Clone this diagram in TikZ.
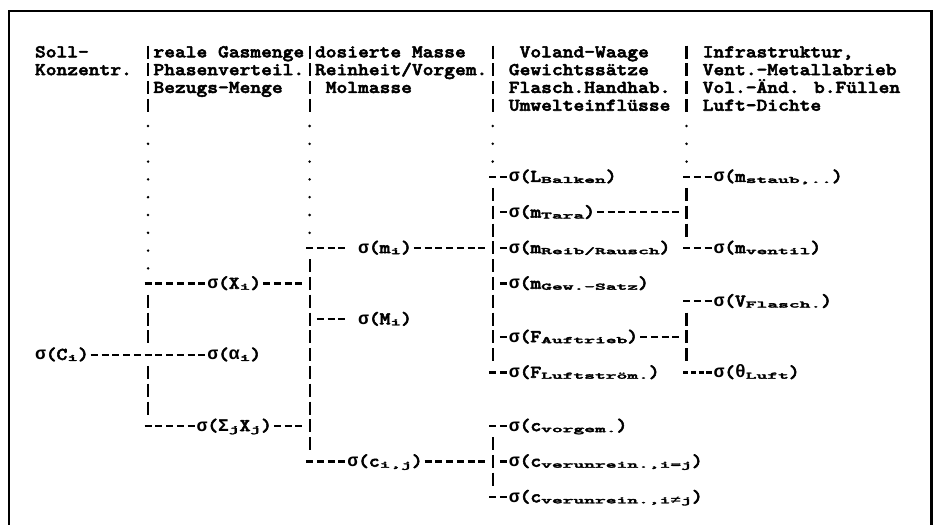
\documentclass[tikz,border=0pt]{standalone}
\usepackage{fontspec}
\usepackage{graphicx}
\newfontfamily\tw{lmmonolt10-bold.otf}[FakeStretch=1.1428,FakeBold=3]
\newfontfamily\gk{Liberation Mono}
\newcommand\gr[1]{{\gk\bfseries #1}}
\newcommand\sbs[1]{\raisebox{-1pt}{\scalebox{1}[0.55]{#1}}}
\begin{document}
\begin{tikzpicture}[x=10.77pt,y=-17.8pt,
  lab/.style={font=\tw\bfseries\fontsize{17.95pt}{17.8pt}\selectfont, inner sep=0pt, outer sep=0pt,
              text height=12pt, text depth=1.32pt, anchor=west},
  bars/.style={line width=2.2pt, dash pattern=on 13pt off 4.8pt},
  hbars/.style={bars, shorten <=-6.5pt, shorten >=-6.5pt},
  vbars/.style={bars, shorten <=11.3pt, shorten >=11.3pt},
  dots/.style={line width=2.8pt, line cap=round, dash pattern=on 0pt off 17.8pt,
               shorten <=20.6pt, shorten >=14pt},
  hd/.style={line width=2.2pt, dash pattern=on 7pt off 3.77pt},
  hdfour/.style={line width=2.2pt, dash pattern=on 5.2pt off 2.57pt},
  fromcol/.style={shorten <=-3.5pt, shorten >=1.885pt},
  tocol/.style={shorten <=1.885pt, shorten >=7.27pt},
  nn/.style={shorten <=1.885pt, shorten >=1.885pt},
  barto/.style={shorten <=7.27pt, shorten >=1.885pt},
  frame/.style={line width=2.5pt}]
\useasboundingbox (-3.2498,-2.9213) rectangle (83.752,26.573);

% frame
\coordinate (fbl) at (-2.414,26.7);
\coordinate (ftl) at (-2.414,-2.303);
\coordinate (ftr) at (83.24,-2.303);
\coordinate (fbr) at (83.24,26.7);
\draw[frame] (fbl) -- (ftl) -- (ftr) -- (fbr);

% header texts
\node[lab] (s1) at (0,0) {Soll-};
\node[lab] (s2) at (0,1) {Konzentr.};
\node[lab] (g1) at (11,0) {reale Gasmenge};
\node[lab] (g2) at (11,1) {Phasenverteil.};
\node[lab] (g3) at (11,2) {Bezugs-Menge};
\node[lab] (d1) at (26,0) {dosierte Masse};
\node[lab] (d2) at (26,1) {Reinheit/Vorgem.};
\node[lab] (d3) at (27,2) {Molmasse};
\node[lab] (w1) at (45,0) {Voland-Waage};
\node[lab] (w2) at (44,1) {Gewichtssätze};
\node[lab] (w3) at (44,2) {Flasch.Handhab.};
\node[lab] (w4) at (44,3) {Umwelteinflüsse};
\node[lab] (i1) at (62,0) {Infrastruktur,};
\node[lab] (i2) at (62,1) {Vent.-Metallabrieb};
\node[lab] (i3) at (62,2) {Vol.-Änd. b.Füllen};
\node[lab] (i4) at (62,3) {Luft-Dichte};

% sigma labels
\node[lab] (C) at (0,17) {\gr{σ}(C\sbs{i})};
\node[lab] (alpha) at (16,17) {\gr{σ}(\gr{α}\sbs{i})};
\node[lab] (X) at (16,13) {\gr{σ}(X\sbs{i})};
\node[lab] (SX) at (15,21) {\gr{σ}(\gr{Σ}\sbs{j}X\sbs{j})};
\node[lab] (mi) at (30,11) {\gr{σ}(m\sbs{i})};
\node[lab] (Mi) at (30,15) {\gr{σ}(M\sbs{i})};
\node[lab] (cij) at (29,23) {\gr{σ}(c\sbs{i,j})};
\node[lab] (LB) at (44,7) {\gr{σ}(L\sbs{Balken})};
\node[lab] (Ta) at (44,9) {\gr{σ}(m\sbs{Tara})};
\node[lab] (RR) at (44,11) {\gr{σ}(m\sbs{Reib/Rausch})};
\node[lab] (GS) at (44,13) {\gr{σ}(m\sbs{Gew.-Satz})};
\node[lab] (FA) at (44,16) {\gr{σ}(F\sbs{Auftrieb})};
\node[lab] (FL) at (44,18) {\gr{σ}(F\sbs{Luftström.})};
\node[lab] (cv) at (44,21) {\gr{σ}(c\sbs{vorgem.})};
\node[lab] (ce) at (44,23) {\gr{σ}(c\sbs{verunrein.,i=j})};
\node[lab] (cn) at (44,25) {\gr{σ}(c\sbs{verunrein.,i\gr{≠}j})};
\node[lab] (st) at (63,7) {\gr{σ}(m\sbs{staub,..})};
\node[lab] (ve) at (63,11) {\gr{σ}(m\sbs{ventil})};
\node[lab] (vf) at (63,14) {\gr{σ}(V\sbs{Flasch.})};
\node[lab] (th) at (63,18) {\gr{σ}(\gr{θ}\sbs{Luft})};

% column coordinates
\coordinate (t1) at (10.5,0); \coordinate (e1) at (10.5,3);
\coordinate (t2) at (25.5,0); \coordinate (e2) at (25.5,3);
\coordinate (t3) at (42.5,0); \coordinate (e3) at (42.5,3);
\coordinate (t4) at (60.5,0); \coordinate (e4) at (60.5,3);
\coordinate (a1) at (10.5,13); \coordinate (m1) at (10.5,17); \coordinate (b1) at (10.5,21);
\coordinate (a2) at (25.5,11); \coordinate (x2) at (25.5,13); \coordinate (k2) at (25.5,15);
\coordinate (s2) at (25.5,21); \coordinate (b2) at (25.5,23);
\coordinate (a3) at (42.5,7); \coordinate (p3) at (42.5,9); \coordinate (q3) at (42.5,11);
\coordinate (g3) at (42.5,13); \coordinate (f3) at (42.5,16); \coordinate (b3) at (42.5,18);
\coordinate (c3) at (42.5,21); \coordinate (d3) at (42.5,23); \coordinate (h3) at (42.5,25);
\coordinate (a4) at (60.5,7); \coordinate (p4) at (60.5,9); \coordinate (b4) at (60.5,11);
\coordinate (c4) at (60.5,14); \coordinate (f4) at (60.5,16); \coordinate (d4) at (60.5,18);

% header bars
\draw[hbars] (t1) -- (e1);
\draw[hbars] (t2) -- (e2);
\draw[hbars] (t3) -- (e3);
\draw[hbars] (t4) -- (e4);

% dotted parts
\draw[dots] (e1) -- (a1);
\draw[dots] (e2) -- (a2);
\draw[dots] (e3) -- (a3);
\draw[dots] (e4) -- (a4);

% vertical bar segments
\draw[vbars] (a1) -- (m1);
\draw[vbars] (m1) -- (b1);
\draw[vbars] (a2) -- (b2);
\draw[vbars] (a3) -- (b3);
\draw[vbars] (c3) -- (h3);
\draw[vbars] (a4) -- (b4);
\draw[vbars] (c4) -- (d4);

% horizontal connectors
\draw[hd,fromcol] (a1) -- (X.west);
\draw[hd,tocol] (X.east) -- (x2);
\draw[hd,nn] (C.east) -- (alpha.west);
\draw[hd,fromcol] (b1) -- (SX.west);
\draw[hd,tocol] (SX.east) -- (s2);
\draw[hd,fromcol,shorten >=12.655pt] (a2) -- (mi.west);
\draw[hd,tocol] (mi.east) -- (q3);
\draw[hd,barto] (q3) -- (RR.west);
\draw[hd,barto,shorten >=12.655pt] (k2) -- (Mi.west);
\draw[hd,fromcol] (b2) -- (cij.west);
\draw[hd,tocol] (cij.east) -- (d3);
\draw[hd,barto] (d3) -- (ce.west);
\draw[hd,fromcol] (a3) -- (LB.west);
\draw[hd,barto] (p3) -- (Ta.west);
\draw[hd,tocol] (Ta.east) -- (p4);
\draw[hd,barto] (g3) -- (GS.west);
\draw[hd,barto] (f3) -- (FA.west);
\draw[hd,tocol] (FA.east) -- (f4);
\draw[hd,fromcol] (b3) -- (FL.west);
\draw[hd,fromcol] (c3) -- (cv.west);
\draw[hd,fromcol] (h3) -- (cn.west);
\draw[hd,fromcol] (a4) -- (st.west);
\draw[hd,fromcol] (b4) -- (ve.west);
\draw[hd,fromcol] (c4) -- (vf.west);
\draw[hdfour,fromcol] (d4) -- (th.west);
\end{tikzpicture}
\end{document}
